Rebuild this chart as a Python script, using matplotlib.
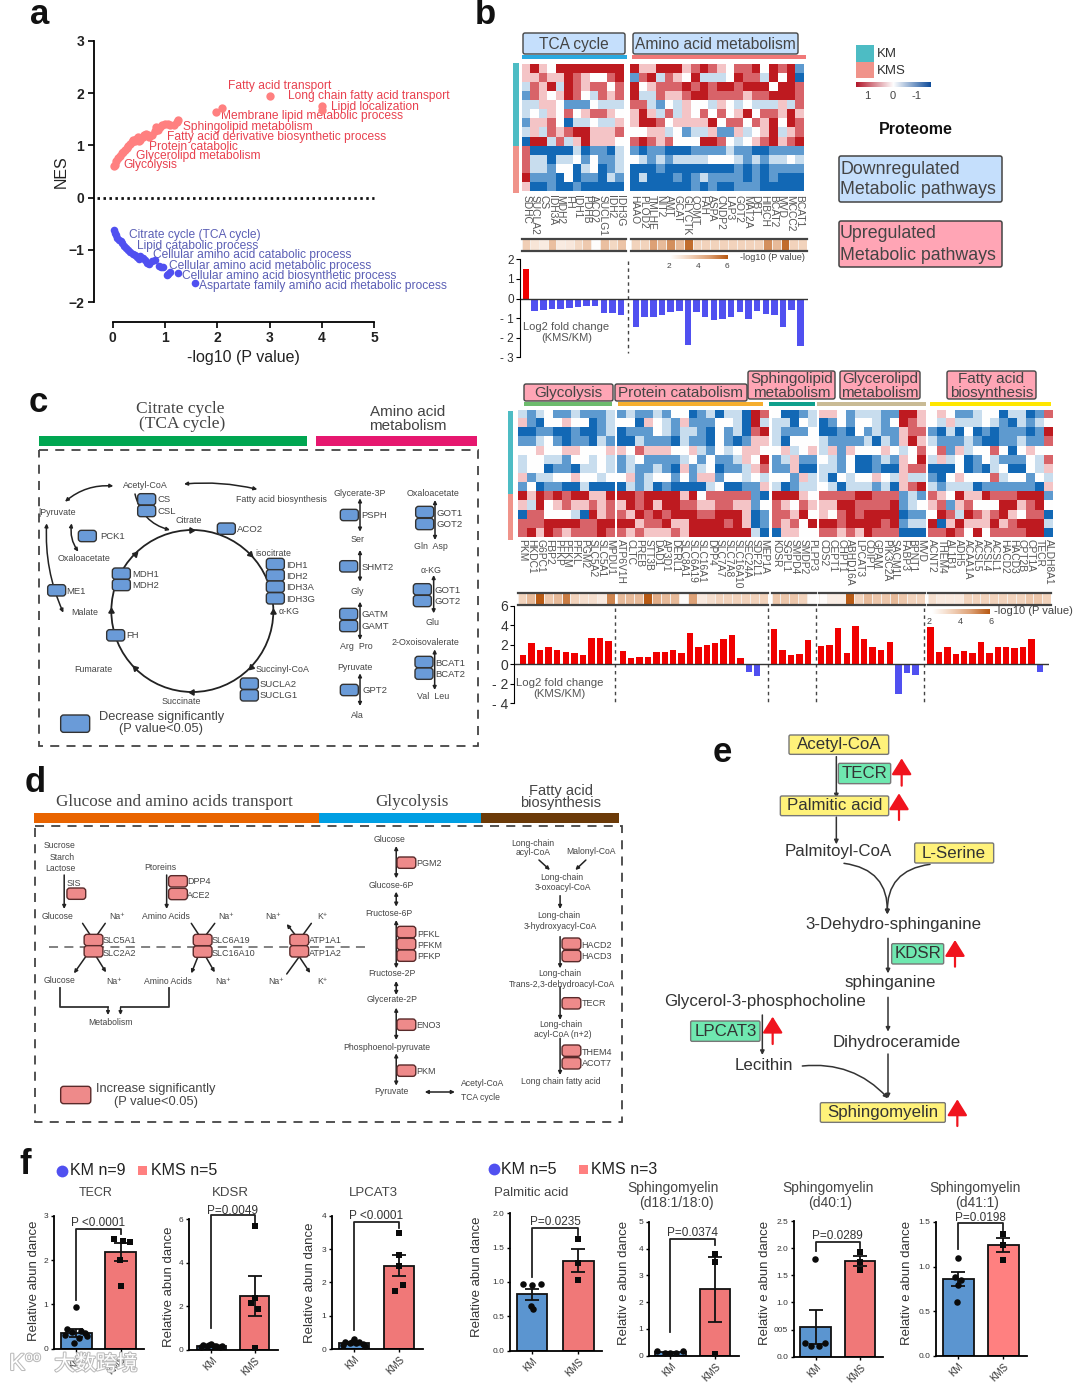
import numpy as np
import matplotlib
matplotlib.use("Agg")
import matplotlib.pyplot as plt
from matplotlib import patheffects
from matplotlib.colors import LinearSegmentedColormap
from matplotlib.patches import FancyBboxPatch, Rectangle, Circle

plt.rcParams['font.family'] = ['Liberation Sans', 'DejaVu Sans']

W, H = 1080, 1384

# ---- panel a
up_x = [0.02,0.05,0.07,0.1,0.13,0.17,0.2,0.23,0.27,0.3,0.33,0.36,0.38,0.42,0.45,0.48,0.5,0.53,0.57,0.6,0.64,0.67,0.7,0.75,0.8,0.83,0.86,0.9,0.95,1.0,1.05,1.1,1.18,1.22,1.25,1.97,2.08,3.0,4.0,4.0]
up_y = [0.6,0.63,0.7,0.75,0.8,0.85,0.88,0.92,0.95,0.98,1.02,1.07,1.1,1.08,1.12,1.15,1.08,1.1,1.15,1.2,1.22,1.2,1.15,1.2,1.28,1.35,1.3,1.35,1.38,1.4,1.4,1.38,1.38,1.45,1.49,1.64,1.72,1.95,1.75,1.68]
down_x = [0.03,0.05,0.07,0.09,0.12,0.15,0.18,0.22,0.26,0.3,0.34,0.38,0.42,0.46,0.5,0.53,0.58,0.62,0.66,0.7,0.75,0.8,0.88,0.92,0.96,1.03,1.06,1.1,1.25,1.57]
down_y = [-0.62,-0.68,-0.72,-0.78,-0.8,-0.83,-0.87,-0.92,-0.96,-1.0,-1.04,-1.08,-1.1,-1.14,-1.18,-1.12,-1.15,-1.2,-1.25,-1.27,-1.22,-1.2,-1.3,-1.33,-1.32,-1.48,-1.45,-1.42,-1.44,-1.63]
up_terms = ["Fatty acid transport","Long chain fatty acid transport","Lipid localization","Membrane lipid metabolic process","Sphingolipid metabolism","Fatty acid derivative biosynthetic process","Protein catabolic","Glycerolipd metabolism","Glycolysis"]
down_terms = ["Citrate cycle (TCA cycle)","Lipid catabolic process","Cellular amino acid catabolic process","Cellular amino acid metabolic process","Cellular amino acid biosynthetic process","Aspartate family amino acid metabolic process"]

# ---- panel b
tca_genes = ["SDHC","SUCLA2","CS","IDH3A","MDH2","FH","IDH1","PDHB","ACO2","SUCLG1","IDH2","IDH3G"]
amino_genes = ["HAAO","PLOD2","TMLHE","NIT2","AMT","GCAT","GLYCTK","COMT","FAH","ASPA","CNDP2","LAP3","GOT2","MAT2A","DBT","HIBCH","BCAT2","MVD","MCCC2","BCAT1"]
tca_heat = ["p R p w R R R R R R R R",
            "p p r p p R r p w w r R",
            "l r p R l R r p r r w r",
            "b r p w p R r w l r p r",
            "l l p p w b b b w l l l",
            "l w l p w r w p r r p w",
            "b p p r w B l l w l l p",
            "l p l r p r R R p p p r",
            "B R R l r l p R p p p w",
            "r B B B B B l B b b B l",
            "r l l B l l w b w b b l",
            "r l l b w w B l w B b l",
            "R b b b B w B b b B l b",
            "p B B b B B b B B B B B"]
amino_heat = ["R p p R R R p r R r p w r r R w R r R b",
              "b r R l r p w R l l l w R r r l R w R B",
              "R w p r r r R r R r R R r R R R w R R r",
              "R l l r p p r R R r r r r p r r R R R r",
              "r r l b w l p w w l p w l w l l l p l r",
              "p R p l r l p w r w r w p R w r r p R p",
              "p R R r w p p p p R w r r w r p R w R r",
              "w w p p l w b l l p b b p l w p R l p r",
              "r R r p r w w w R R r w l w p r R p r R",
              "b B b b B B B b b b b l b b B B b b b b",
              "w l b l b l l l l w w w l b l b l l w l",
              "B B B b B B B B B B B B b B b B b b b b",
              "B l B B B b B b l b b b b B b B b B B B",
              "B B B B B B B b B b B B b b b B B B B B"]
tca_p = [2.2,1.2,0.9,2.8,0.9,1.1,1.8,2.4,0.1,2.8,1.8,2.6]
amino_p = [2,2,4,3,4.5,3,5.5,2,2,2,2,2,2,2,2,4.5,3,5.5,2,2]
tca_fc = [1.5,-0.65,-0.6,-0.55,-0.55,-0.5,-0.45,-0.4,-0.4,-0.75,-0.75,-0.85]
amino_fc = [-1.45,-0.95,-0.95,-0.85,-0.7,-0.65,-2.35,-0.7,-0.95,-1.1,-1.05,-0.95,-0.7,-1.05,-0.65,-0.8,-0.85,-1.45,-0.6,-2.4]

# ---- panel c heatmap
gly_genes = ["PKM","HKDC1","G6PC1","FBP2","PFKP","PFKM","PFKL","PGM2","SLC5A2","SLC5A1","MPDU1"]
prot_genes = ["ATP6V1H","CLTC","PREB","STT3B","DAD1","AP3D1","DERL1","SLC8A1","SLC6A19","SLC16A1","DPP4","SLC7A7","SLC7A8","SLC16A10","SEC24A","SDF2L1","MEP1A"]
sph_genes = ["KDSR","SGPL1","SMPD4","SMDP2","PLPP3"]
glyc_genes = ["CDS2","CEPT1","CHPT1","ABHD16A","LPCAT3","CDIPT","GPAM","PIK3C2A","SACM1L","FABP3","BPNT1","MVD"]
fatty_genes = ["ACNT2","THEM4","AL1B1","ADH5","ACAA1A","ACSL5","ACSL4","ACSL1","HACD2","HACD3","CPT2B","CPT1A","TECR","ALDH8A1"]
gly_heat = ["l b l w b b l b b b l",
            "p b B w w p w w B b l",
            "B B b b B B b B B b l",
            "b b l w b B b b B l b",
            "w w p w w p p w w w p",
            "l w w l l b w w l w l",
            "l w w B b b B l l w l",
            "p b l l w w p w w l w",
            "b w B b b B B l B B B",
            "R p R r R r R R p p R",
            "p l R w p r p p r p r",
            "B r r w w w l B R p r",
            "r r r R R R R r r R R",
            "r R p R r p r r r R r"]
prot_heat = ["b l b b l b w w B b l B l l B R r",
             "w w B p w l b p b b b w w l B R l",
             "B b b b w l b l l b B w b l B r R",
             "B B l b b b B l b b B w b B b p p",
             "p w r p p p w w p l b w l w p p w",
             "b l w b b b b l w b w b b l p w R",
             "b l b b l b B p b l w B b b l p r",
             "w p b l w w b w b p p b w w l w l",
             "B l b l B b B B B B l w B B b b p",
             "R R r R R R R p R w r r r r r b B",
             "p R r R p R R r r p p r r p p b w",
             "r p R r R r R R R r r R R R p B b",
             "R R p r r R p p R R R R r R p B b",
             "r p r p p p r p R R R R R R R l B"]
sph_heat = ["w B B b l","l l B w l","l b b b w","l B w w w","w p l w p","b l p b b","b b p B B",
            "w w b p l","l B b l l","R R R p w","r p w r p","r r p R w","r p r w R","B p p w w"]
glyc_heat = ["p p w b l l l b b R R p",
             "B b w b w w l b w R r p",
             "B B b B w b l b b p r r",
             "l b b b b l B l b p R p",
             "l p b p w w w p w l w r",
             "w l b w B B b l b p w R",
             "l l b w B B b B B p r r",
             "l B w l w w p w l p l l",
             "w l B l l l b l B p r R",
             "r r r r R R r r r b l b",
             "p p R R r r r r R b l w",
             "p w r R r R R R R B b b",
             "R R r R R R R r R b l l",
             "r r p r p R r r r B B B"]
fatty_heat = ["w p w b b l w w B l l B b r",
              "w l p l l l w l b B l b l w",
              "b B l B w B b B b b b B b R",
              "l b b b l b B B b b l b b r",
              "w r b p l w w r w B w p w w",
              "l p l w B b w l b b b w l r",
              "B B B w B b B l w B B w l p",
              "b B w p w w w r l w w b w l",
              "l b l l l B b b b b b b B p",
              "r p w R p p R r r r R R R b",
              "p r b p r w w w R R p r R w",
              "w R r l R r p r R p w r r B",
              "R B p R p p p R p r R R R l",
              "r r R r w R w r r r r R R B"]
gly_p = [2,3,6,2.5,3,5,2,1.5,1.5,1,4.8]
prot_p = [3,3,3,6,3.5,3,3,0.2,4,1,1.5,2,2,2,2,2,2]
sph_p = [2.5,2.5,2.5,2,0.2]
glyc_p = [0.2,0.8,0.8,6,2,3,2.5,2.5,3,2.5,2,2]
fatty_p = [1.5,1,1,1,2,2,2,2,2,2,2,2.5,2.5,2]
gly_fc = [0.9,2.2,1.5,1.8,1.5,1.3,1.2,0.9,2.7,2.7,2.35]
prot_fc = [1.4,0.65,0.75,0.75,1.3,1.3,1.5,1.2,3.25,1.8,2.0,2.2,2.6,3.0,0.6,-0.75,-1.2]
sph_fc = [3.6,1.5,0.9,1.1,2.5]
glyc_fc = [1.9,2.0,3.7,1.2,3.9,2.6,1.75,1.5,2.25,-3.0,-0.9,-1.1]
fatty_fc = [3.85,1.3,1.75,1.1,1.4,1.2,2.25,1.2,1.75,1.8,1.65,1.8,2.6,-0.8]

# ---- panel f
tecr_km = [0.95,0.45,0.4,0.38,0.35,0.3,0.28,0.25,0.12]
tecr_kms = [2.47,2.4,2.42,2.0,1.42]
kdsr_km = [0.26,0.22,0.2,0.17,0.15,0.14,0.17,0.2,0.24]
kdsr_kms = [5.67,2.4,2.15,1.9,0.1]
lpcat_km = [0.3,0.22,0.2,0.18,0.15,0.12,0.1,0.18,0.2]
lpcat_kms = [3.48,2.82,2.5,1.93,1.75]
palm_km = [0.97,0.97,0.95,0.65,0.6]
palm_kms = [1.62,1.27,1.03]
d18_km = [0.18,0.1,0.09,0.09,0.17]
d18_kms = [3.8,3.5,0.07]
d40_km = [1.8,0.25,0.2,0.2,0.25]
d40_kms = [1.92,1.75,1.6]
d41_km = [1.1,0.88,0.85,0.8,0.6]
d41_kms = [1.37,1.24,1.08]
jit9 = [0,-0.2,0.1,-0.1,0.2,-0.25,0.25,0.05,-0.05]
jit5 = [-0.15,0.2,0.05,-0.02,0.0]
jit5b = [0,0,-0.08,0.08,0]
jit5c = [0,0,0,0.08,-0.08]
jit3 = [0,0,0]

LEVEL = {'R':3,'r':2,'p':1,'w':0,'l':-1,'b':-2,'B':-3}
heat_cmap = LinearSegmentedColormap.from_list('h', ['#1268B5','#5F9BD0','#C8DDEE','#FFFFFF','#F4C4C6','#D9646A','#BE1A20'])
strip_cmap = LinearSegmentedColormap.from_list('s', ['#FFFFFF','#F2D3BC','#DDA176','#B85A14'])
RED, BLUE = '#F00000', '#5050F0'
TEAL, SALMON = '#4DBCC4', '#F0938A'
GREY = '#444444'

fig = plt.figure(figsize=(W/100, H/100), dpi=100)
bg = fig.add_axes([0, 0, 1, 1])
bg.set_xlim(0, W)
bg.set_ylim(H, 0)
bg.axis('off')


def ax_px(x0, y0, x1, y1):
    a = fig.add_axes([x0/W, 1-y1/H, (x1-x0)/W, (y1-y0)/H])
    a.patch.set_alpha(0)
    return a


def txt(x, y, s, size=6.5, color=GREY, ha='center', va='center', **kw):
    return bg.text(x, y, s, fontsize=size, color=color, ha=ha, va=va, **kw)


def box(x0, y0, x1, y1, fc, ec='#444444', lw=1.0, r=2.0):
    bg.add_patch(FancyBboxPatch((x0+r, y0+r), x1-x0-2*r, y1-y0-2*r, boxstyle='round,pad=%f,rounding_size=%f' % (r, r),
                                fc=fc, ec=ec, lw=lw, zorder=3))


def arrow(p0, p1, style='-|>', lw=1.0, color='#222222', ms=6, rad=0.0):
    bg.annotate('', xy=p1, xytext=p0, zorder=2,
                arrowprops=dict(arrowstyle=style, lw=lw, color=color, mutation_scale=ms, shrinkA=0, shrinkB=0,
                                connectionstyle='arc3,rad=%f' % rad))


def heat(rows, x0, x1, y0=64, y1=191):
    a = ax_px(x0, y0, x1, y1)
    arr = np.array([[LEVEL[c] for c in r.split()] for r in rows])
    a.imshow(arr, cmap=heat_cmap, vmin=-3, vmax=3, aspect='auto', interpolation='nearest')
    a.axis('off')


def strip(vals, x0, x1, y0, y1):
    a = ax_px(x0, y0, x1, y1)
    a.pcolormesh([vals], cmap=strip_cmap, vmin=0, vmax=6, edgecolors='#F5EEE8', linewidth=0.6)
    a.set_xticks([])
    a.set_yticks([])
    for s in ['left', 'right']:
        a.spines[s].set_visible(False)
    for s in ['top', 'bottom']:
        a.spines[s].set_color('#444444')
        a.spines[s].set_linewidth(1.6)


def genes(names, x0, x1, y, size=7.4):
    step = (x1-x0)/len(names)
    for i, n in enumerate(names):
        txt(x0+step*(i+.5), y, n, size=size, rotation=270, va='top', color='#555555')


def fc_bars(a, vals, start, step, width):
    x = [start+step*i for i in range(len(vals))]
    a.bar(x, vals, width=width, color=[RED if v > 0 else BLUE for v in vals])


# ---------- a
txt(40, 15, 'a', size=25, color='#111111', weight='bold')
ax = ax_px(112.7, 40.7, 374.3, 302.3)
ax.scatter(up_x, up_y, s=36, color='#FF8080', clip_on=False, lw=0)
ax.scatter(down_x, down_y, s=30, color='#5050F0', clip_on=False, lw=0)
ax.plot([-0.3, 5], [0, 0], color='#111111', lw=2, ls=(0, (0.9, 1.25)), clip_on=False)
ax.set_xlim(0, 5)
ax.set_ylim(-2, 3)
for s in ['top', 'right']:
    ax.spines[s].set_visible(False)
ax.spines['left'].set_position(('outward', 13.4))
ax.spines['bottom'].set_position(('outward', 14))
ax.spines['left'].set_linewidth(1.3)
ax.spines['bottom'].set_linewidth(1.3)
ax.set_xticks(range(6))
ax.set_yticks([-2, -1, 0, 1, 2, 3])
ax.tick_params(width=1.2, length=4, labelsize=10, pad=3)
for t in ax.get_xticklabels()+ax.get_yticklabels():
    t.set_fontweight('bold')
    t.set_color('#222222')
ax.set_xlabel('-log10 (P value)', fontsize=11.5, color='#222222', labelpad=3)
ax.set_ylabel('NES', fontsize=11.5, color='#222222', labelpad=0)
up_pos = [(683,258),(865,287),(992,321),(662,349),(550,381),(500,412),(448,441),(407,469),(371,495)]
down_pos = [(386,706),(412,737),(459,766),(507,797),(545,828),(597,857)]
for s, (x, y) in zip(up_terms, up_pos):
    txt(x/3, y/3, s, size=8.65, color='#E8414F', ha='left')
for s, (x, y) in zip(down_terms, down_pos):
    txt(x/3, y/3, s, size=8.65, color='#5B5FB5', ha='left')

# ---------- b
txt(485, 15, 'b', size=25, color='#111111', weight='bold')
box(523, 33, 625, 54, '#C5DFFC')
box(633, 33, 798, 54, '#C5DFFC')
txt(574, 44, 'TCA cycle', size=11.2)
txt(715, 44.5, 'Amino acid metabolism', size=11.2)
bg.add_patch(Rectangle((522, 55), 105, 4.3, color='#2AA9E0', lw=0))
bg.add_patch(Rectangle((632, 55), 174, 4.3, color='#F07878', lw=0))
bg.add_patch(Rectangle((512.7, 63), 5.8, 83, color=TEAL, lw=0))
bg.add_patch(Rectangle((512.7, 146), 5.8, 46.7, color=SALMON, lw=0))
heat(tca_heat, 522, 624)
heat(amino_heat, 630, 803)
genes(tca_genes, 522, 624, 195)
genes(amino_genes, 630, 803, 195)
strip(tca_p, 521.5, 626, 239, 250.5)
strip(amino_p, 631, 807, 239, 250.5)
cb = ax_px(670, 255, 728, 259.5)
cb.imshow(np.linspace(0, 6, 64)[None, :], cmap=strip_cmap, aspect='auto')
cb.axis('off')
for x, s in [(669, '2'), (698, '4'), (727, '6')]:
    txt(x, 266, s, size=6)
txt(740, 257.5, '-log10 (P value)', size=6.6, ha='left')
ax = ax_px(519.6, 259.3, 808, 357.3)
fc_bars(ax, tca_fc, 526, 8.65, 6.5)
fc_bars(ax, amino_fc, 636, 8.65, 6.5)
ax.set_xlim(519.6, 808)
ax.set_ylim(-3, 2)
ax.set_xticks([])
ax.set_yticks([-3, -2, -1, 0, 1, 2])
ax.set_yticklabels(['- 3', '- 2', '- 1', '0', '1', '2'])
ax.tick_params(labelsize=8.5, length=3, pad=1, labelcolor='#333333')
for s in ['top', 'right', 'bottom']:
    ax.spines[s].set_visible(False)
ax.axhline(0, color='#333333', lw=1)
bg.plot([628, 628], [261, 353], color=GREY, lw=1, ls=(0, (2.5, 2.5)))
txt(566.5, 327, 'Log2 fold change', size=8, color='#555555')
txt(566.5, 338, '(KMS/KM)', size=8, color='#555555')
bg.add_patch(Rectangle((856, 45), 18, 16.7, color=TEAL, lw=0))
bg.add_patch(Rectangle((856, 61.7), 18, 16.3, color=SALMON, lw=0))
txt(877, 54, 'KM', size=9.5, ha='left', color='#333333')
txt(877, 71, 'KMS', size=9.5, ha='left', color='#333333')
cb = ax_px(856, 81.7, 931, 87.3)
cb.imshow(np.linspace(3, -3, 128)[None, :], cmap=LinearSegmentedColormap.from_list('l', ['#0F4C9A', '#FFFFFF', '#B2182B']), aspect='auto', vmin=-3, vmax=3)
cb.axis('off')
for x, s in [(867, '1'), (893, '0'), (916, '-1')]:
    txt(x, 95.7, s, size=8)
txt(916, 130, 'Proteome', size=11.5, color='#111111', weight='bold')
box(839, 156, 1002, 202, '#C5DFFC', lw=1.1)
box(839, 221, 1002, 267, '#FFA5B5', lw=1.1)
txt(840, 169, 'Downregulated', size=12.8, ha='left')
txt(840, 190, 'Metabolic pathways', size=12.8, ha='left')
txt(840, 234, 'Upregulated', size=12.8, ha='left')
txt(840, 255, 'Metabolic pathways', size=12.8, ha='left')

# ---------- c pathway (zoom coordinates -> pixels)
cx = lambda v: v/3
cy = lambda v: 380+v/3
txt(38, 403, 'c', size=25, color='#111111', weight='bold')
txt(cx(540), cy(87), 'Citrate cycle', size=12.5, family='Liberation Serif')
txt(cx(546), cy(131), '(TCA cycle)', size=12.5, family='Liberation Serif')
txt(cx(1222), cy(97), 'Amino acid', size=11)
txt(cx(1222), cy(137), 'metabolism', size=11)
bg.add_patch(Rectangle((cx(118), cy(167)), cx(802), 10, color='#00A651', lw=0))
bg.add_patch(Rectangle((cx(947), cy(167)), cx(485), 10, color='#E6186F', lw=0))
bg.add_patch(Rectangle((cx(116), cy(210)), cx(1319), 296, fill=False, ec=GREY, lw=1.3, ls=(0, (5, 4))))
bg.add_patch(Circle((cx(577), cy(693)), 81, fill=False, ec='#222222', lw=1.3))
for ang, rot in [(91, -90), (45, -135), (-1, 0), (-44, 135), (-90, 90), (-135, 45), (180, 0), (135, -45)]:
    x0 = cx(577)+81*np.cos(np.radians(ang))
    y0 = cy(693)-81*np.sin(np.radians(ang))
    bg.plot([x0], [y0], marker=(3, 0, rot), ms=4.5, color='#222222', zorder=2)
c_boxes = [(440,358),(440,393),(679,446),(826,552),(826,586),(826,620),(826,655),(364,581),(364,615),(347,766),
           (748,911),(748,946),(170,631),(262,468),(1048,405),(1046,559),(1046,702),(1046,738),(1048,930),
           (1274,396),(1274,432),(1267,628),(1267,663),(1272,846),(1272,881)]
for x, y in c_boxes:
    box(cx(x-27), cy(y-17), cx(x+27), cy(y+17), '#6A9BD8', ec='#333333', r=3)
box(cx(182), cy(1005), cx(269), cy(1057), '#6A9BD8', ec='#333333', r=3)
c_mets = [('Acetyl-CoA',437,316),('Fatty acid biosynthesis',843,360),('Glycerate-3P',1078,340),('Oxaloacetate',1300,340),
          ('|Pyruvate',170,397),('Citrate',565,422),('Oxaloacetate',253,535),('isocitrate',820,519),('Ser',1074,480),
          ('Gln  Asp',1292,500),('Gly',1071,633),('α-KG',1293,571),('α-KG',867,696),('Malate',254,698),('Glu',1298,727),
          ('Arg  Pro',1069,800),('2-Oxoisovalerate',1277,788),('Pyruvate',1065,862),('Fumarate',280,870),
          ('Succinyl-CoA',846,870),('Succinate',544,963),('Val  Leu',1300,950),('Ala',1073,1005)]
for s, x, y in c_mets:
    txt(cx(x), cy(y), s, size=6.4)
c_genes = [('CS',473,360),('CSL',473,395),('ACO2',712,449),('PCK1',300,469),('IDH1',858,555),('IDH2',858,589),('IDH3A',858,623),
           ('IDH3G',858,657),('MDH1',398,584),('MDH2',398,618),('ME1',200,635),('FH',380,768),('SUCLA2',780,914),('SUCLG1',780,948),
           ('PSPH',1084,407),('SHMT2',1084,561),('GATM',1084,704),('GAMT',1084,739),('GPT2',1087,932),('GOT1',1310,399),('GOT2',1310,433),
           ('GOT1',1303,631),('GOT2',1303,665),('BCAT1',1306,849),('BCAT2',1306,883)]
for s, x, y in c_genes:
    txt(cx(x), cy(y), s, size=6.8, ha='left')
txt(cx(484), cy(1010), 'Decrease significantly', size=9.3)
txt(cx(484), cy(1048), '(P value<0.05)', size=9.3)
for (x0, y0), (x1, y1), st, rad in [((195,365),(340,318),'<|-|>',-0.2),((552,312),(772,328),'<|-|>',-0.08),((140,430),(190,698),'<|-|>',0.12),
                                    ((215,430),(235,515),'<|-|>',0.2),((405,342),(510,450),'-|>',0.3),
                                    ((1080,355),(1080,455),'<|-|>',0),((1080,510),(1080,605),'<|-|>',0),((1080,665),(1080,780),'<|-|>',0),
                                    ((1080,880),(1080,978),'<|-|>',0),((1305,360),(1305,480),'<|-|>',0),((1301,585),(1301,700),'<|-|>',0),
                                    ((1304,808),(1304,930),'<|-|>',0)]:
    arrow((cx(x0), cy(y0)), (cx(x1), cy(y1)), style=st, rad=rad, ms=5, lw=1.1)

# ---------- c heatmap
for (x0, x1, y0, y1, s, t) in [(524,613,384,401,'Glycolysis',393),(615,747,384,401,'Protein catabolism',393)]:
    box(x0, y0, x1, y1, '#FFA5B5')
    txt((x0+x1)/2, t, s, size=11)
for (x0, x1, a_s, b_s) in [(748,835,'Sphingolipid','metabolism'),(840,920,'Glycerolipd','metabolism'),(947,1036,'Fatty acid','biosynthesis')]:
    box(x0, 371, x1, 399, '#FFA5B5')
    txt((x0+x1)/2, 379, a_s, size=11)
    txt((x0+x1)/2, 393, b_s, size=11)
for x0, x1, c in [(524,612,'#6DBB6D'),(617.5,763,'#F5AE2E'),(769,815,'#0FA08C'),(817,926,'#C9BB95'),(929.5,1051,'#FFE600')]:
    bg.add_patch(Rectangle((x0, 401.7), x1-x0, 4.3, color=c, lw=0))
bg.add_patch(Rectangle((507.6, 410.7), 5.6, 83.3, color=TEAL, lw=0))
bg.add_patch(Rectangle((507.6, 494), 5.6, 46, color=SALMON, lw=0))
c_groups = [(gly_heat,gly_genes,gly_p,518,615,614.5),(prot_heat,prot_genes,prot_p,617,769,768),(sph_heat,sph_genes,sph_p,772,817,816),
            (glyc_heat,glyc_genes,glyc_p,819,926,925),(fatty_heat,fatty_genes,fatty_p,928,1053,1051)]
for rows, names, pv, x0, x1, sx in c_groups:
    heat(rows, x0, x1, 410, 537.5)
    genes(names, x0, x1, 539)
    strip(pv, x0-0.5, sx, 593, 605)
cb = ax_px(932, 609, 990, 613.7)
cb.imshow(np.linspace(0, 6, 64)[None, :], cmap=strip_cmap, aspect='auto')
cb.axis('off')
txt(994, 611, '-log10 (P value)', size=8, ha='left')
for x, s in [(929.5, '2'), (960.6, '4'), (991, '6')]:
    txt(x, 621, s, size=6.5)
ax = ax_px(513.7, 605.7, 1049, 703.3)
fc_bars(ax, gly_fc, 523, 8.55, 6.5)
fc_bars(ax, prot_fc, 622.8, 8.4, 6.5)
fc_bars(ax, sph_fc, 774, 8.5, 6.5)
fc_bars(ax, glyc_fc, 821, 8.6, 6.5)
fc_bars(ax, fatty_fc, 930.6, 8.4, 6.5)
ax.set_xlim(513.7, 1049)
ax.set_ylim(-4, 6)
ax.set_xticks([])
ax.set_yticks([-4, -2, 0, 2, 4, 6])
ax.set_yticklabels(['- 4', '- 2', '0', '2', '4', '6'])
ax.tick_params(labelsize=10, length=3, pad=1, labelcolor='#333333')
for s in ['top', 'right', 'bottom']:
    ax.spines[s].set_visible(False)
ax.axhline(0, color='#333333', lw=1)
for x in [615, 768, 816, 924]:
    bg.plot([x, x], [608, 703], color=GREY, lw=1, ls=(0, (2.5, 2.5)))
txt(559.4, 683, 'Log2 fold change', size=8.2, color='#555555')
txt(559.4, 694, '(KMS/KM)', size=8.2, color='#555555')

# ---------- d pathway
dx = lambda v: 20+v/2.557
dy = lambda v: 765+v/3
txt(35, 782, 'd', size=25, color='#111111', weight='bold')
txt(dx(395), dy(110), 'Glucose and amino acids transport', size=12.3, family='Liberation Serif')
txt(dx(1003), dy(110), 'Glycolysis', size=12.3, family='Liberation Serif')
txt(dx(1383), dy(77), 'Fatty acid', size=10.5)
txt(dx(1383), dy(115), 'biosynthesis', size=10.5)
for x0, x1, c in [(36,764,'#E96400'),(764,1180,'#009FE3'),(1180,1531,'#6B3A08')]:
    bg.add_patch(Rectangle((dx(x0), dy(145)), (x1-x0)/2.557, 10, color=c, lw=0))
bg.add_patch(Rectangle((dx(38), dy(183)), 1502/2.557, 889/3, fill=False, ec=GREY, lw=1.3, ls=(0, (5, 4))))
bg.plot([dx(75), dx(885)], [dy(545), dy(545)], color='#777777', lw=1.3, ls=(0, (5, 3.5)))
d_boxes = [(144,386),(404,349),(404,387),(188,525),(188,559),(467,525),(467,560),(714,525),(714,559),(988,293),(988,501),(988,537),
           (988,572),(988,779),(988,917),(1410,536),(1410,573),(1410,715),(1410,857),(1410,895)]
for x, y in d_boxes:
    box(dx(x-24), dy(y-17), dx(x+24), dy(y+17), '#EE8A8A', ec='#5A2A2A', r=3)
box(dx(104), dy(964), dx(181), dy(1016), '#EE8A8A', ec='#5A2A2A', r=3)
d_mets = [('Sucrose',102,240),('Starch',107,279),('Lactose',104,311),('Ptoreins',358,308),('Glucose',96,454),('Na⁺',248,454),('Amino Acids',372,454),
          ('Na⁺',526,454),('Na⁺',647,454),('K⁺',773,454),('Glucose',102,646),('Na⁺',240,651),('Amino Acids',379,648),('Na⁺',520,651),('Na⁺',655,651),
          ('K⁺',773,651),('Metabolism',232,773),('Glucose',945,222),('Glucose-6P',950,360),('Fructose-6P',943,446),('Fructose-2P',952,627),
          ('Glycerate-2P',951,705),('Phosphoenol-pyruvate',937,847),('Pyruvate',950,979),('Acetyl-CoA',1182,955),('TCA cycle',1177,999),
          ('Long-chain',1312,235),('acyl-CoA',1312,263),('Malonyl-CoA',1459,261),('Long-chain',1385,337),('3-oxoacyl-CoA',1388,368),('Long-chain',1377,452),
          ('3-hydroxyacyl-CoA',1381,485),('Long-chain',1380,625),('Trans-2,3-dehydroacyl-CoA',1385,658),('Long-chain',1383,778),('acyl-CoA (n+2)',1387,809),
          ('Long chain fatty acid',1383,948)]
for s, x, y in d_mets:
    txt(dx(x), dy(y), s, size=6.2)
d_genes = [('SIS',120,357),('DPP4',428,351),('ACE2',428,390),('SLC5A1',212,527),('SLC2A2',212,565),('SLC6A19',490,527),('SLC16A10',490,567),('ATP1A1',738,527),
           ('ATP1A2',738,565),('PGM2',1013,295),('PFKL',1016,508),('PFKM',1016,543),('PFKP',1016,575),('ENO3',1014,781),('PKM',1014,918),('HACD2',1436,541),
           ('HACD3',1436,575),('TECR',1436,716),('THEM4',1436,863),('ACOT7',1436,895)]
for s, x, y in d_genes:
    txt(dx(x), dy(y), s, size=6.5, ha='left')
txt(dx(347), dy(973), 'Increase significantly', size=9.3)
txt(dx(347), dy(1012), '(P value<0.05)', size=9.3)
d_arrows = [((113,330),(113,432),'-|>'),((375,330),(375,432),'-|>'),((962,243),(962,340),'<|-|>'),((962,380),(962,425),'<|-|>'),((962,465),(962,610),'<|-|>'),
            ((962,648),(962,690),'<|-|>'),((962,728),(962,825),'<|-|>'),((962,865),(962,962),'<|-|>'),((1035,981),(1112,981),'<|-|>'),((1327,285),(1355,315),'-|>'),
            ((1447,285),(1420,315),'-|>'),((1381,392),(1381,432),'-|>'),((1381,515),(1381,610),'-|>'),((1381,665),(1381,765),'-|>'),((1381,820),(1381,930),'-|>'),
            ((160,475),(188,525),'-'),((218,475),(188,525),'-'),((168,575),(138,625),'-|>'),((195,575),(220,622),'-|>'),
            ((438,475),(466,525),'-'),((498,475),(466,525),'-'),((455,575),(438,625),'-|>'),((475,575),(498,622),'-|>'),
            ((714,525),(682,477),'-|>'),((714,525),(745,475),'-'),((714,575),(682,627),'-'),((714,575),(742,624),'-|>')]
for (x0, y0), (x1, y1), st in d_arrows:
    arrow((dx(x0), dy(y0)), (dx(x1), dy(y1)), style=st, ms=5, lw=1.1)
bg.plot([dx(103), dx(103), dx(225)], [dy(670), dy(727), dy(727)], color='#333333', lw=1.3)
bg.plot([dx(380), dx(380), dx(257)], [dy(670), dy(727), dy(727)], color='#333333', lw=1.3)
arrow((dx(225), dy(727)), (dx(225), dy(750)), ms=5)
arrow((dx(257), dy(727)), (dx(257), dy(750)), ms=5)

# ---------- e
ex = lambda v: 640+v/3
ey = lambda v: 725+v/3
txt(722, 753, 'e', size=25, color='#111111', weight='bold')
for s, x0, x1, y0, y1, c in [('Acetyl-CoA',447,746,30,88,'#FFF27A'),('Palmitic acid',421,746,213,272,'#FFF27A'),('L-Serine',824,1061,354,414,'#FFF27A'),
                             ('Sphingomyelin',541,916,1133,1192,'#FFF27A'),('TECR',595,752,115,176,'#6FE8B0'),('KDSR',755,911,656,717,'#6FE8B0'),
                             ('LPCAT3',152,360,888,949,'#6FE8B0')]:
    box(ex(x0), ey(y0), ex(x1), ey(y1), c, ec='#777777', r=1.5)
    bg.text(ex((x0+x1)/2), ey((y0+y1)/2), s, fontsize=12.2, color='#333333', ha='center', va='center', zorder=4)
for s, x, y in [('Palmitoyl-CoA',595,380),('3-Dehydro-sphinganine',760,598),('sphinganine',750,773),('Glycerol-3-phosphocholine',375,830),
                ('Dihydroceramide',770,951),('Lecithin',371,1020)]:
    txt(ex(x), ey(y), s, size=12.2, color='#333333')
for (x0, y0), (x1, y1), rad in [((589,95),(589,220),0),((589,276),(589,358),0),((612,415),(742,568),-0.45),((870,418),(742,568),0.45),((744,640),(744,745),0),
                                ((744,817),(744,920),0),((744,987),(744,1120),0),((367,870),(367,990),0),((487,1023),(744,1120),-0.25)]:
    arrow((ex(x0), ey(y0)), (ex(x1), ey(y1)), rad=rad, lw=1.1, color='#333333', ms=6)
for (x0, y0), (x1, y1) in [((785,182),(785,100)),((777,285),(777,205)),((945,725),(945,645)),((398,957),(398,875)),((952,1203),(952,1123))]:
    bg.annotate('', xy=(ex(x1), ey(y1)), xytext=(ex(x0), ey(y0)), zorder=5,
                arrowprops=dict(arrowstyle='-|>,head_width=0.28,head_length=0.45', lw=1.6, color='#F0141E', mutation_scale=22, shrinkA=0, shrinkB=0))

# ---------- f
txt(25, 1165, 'f', size=25, color='#111111', weight='bold')
bg.plot([61.7], [1170.7], 'o', ms=8.5, color=BLUE, mew=0)
txt(70, 1170.5, 'KM n=9', size=11.5, ha='left', color='#222222')
bg.add_patch(Rectangle((137.7, 1166), 9, 9, color='#FF8080', lw=0))
txt(150.7, 1170.5, 'KMS n=5', size=11.5, ha='left', color='#222222')
bg.plot([493.5], [1169], 'o', ms=8.5, color=BLUE, mew=0)
txt(501, 1169, 'KM n=5', size=11.5, ha='left', color='#222222')
bg.add_patch(Rectangle((579, 1164.5), 9, 9, color='#FF8080', lw=0))
txt(590.8, 1169, 'KMS n=3', size=11.5, ha='left', color='#222222')


def bar_panel(spine, right, top, zero, km_rng, kms_rng, ymax, ticks, ticklabels, km, kms, km_jit, kms_jit, means, errs, bracket, ptext, ptext_y, kms_color='#F07878'):
    km_c, kms_c = sum(km_rng)/2, sum(kms_rng)/2
    unit = kms_c-km_c
    a = ax_px(spine, top, right, zero)
    a.bar([0, 1], means, width=(km_rng[1]-km_rng[0])/unit, color=['#5B95D0', kms_color], ec='#111111', lw=1.3)
    a.errorbar([0, 1], means, yerr=errs, fmt='none', ecolor='#111111', elinewidth=1.3, capsize=5, capthick=1.3, zorder=4)
    a.scatter(km_jit, km, s=22, color='#0A0A0A', zorder=5, clip_on=False, lw=0)
    a.scatter(np.array(kms_jit)+1, kms, s=22, marker='s', color='#0A0A0A', zorder=5, clip_on=False, lw=0)
    a.plot([0, 0, 1, 1], [bracket[0], bracket[1], bracket[1], bracket[2]], color='#222222', lw=1.3, clip_on=False)
    a.text(0.5, ptext_y, ptext, fontsize=8.5, color='#333333', ha='center', va='center', clip_on=False)
    a.set_xlim((spine-km_c)/unit, (right-km_c)/unit)
    a.set_ylim(0, ymax)
    a.set_xticks([0, 1])
    a.set_xticklabels(['KM', 'KMS'], rotation=45, fontsize=7, color='#333333', ha='right', rotation_mode='anchor')
    a.set_yticks(ticks)
    a.set_yticklabels(ticklabels, fontsize=6, color='#333333')
    a.tick_params(length=2.5, width=1, pad=1.5)
    for s in ['top', 'right']:
        a.spines[s].set_visible(False)
    a.spines['left'].set_linewidth(1.3)
    a.spines['bottom'].set_linewidth(1.3)


bar_panel(54,144,1215.7,1348.7,(61,91.7),(105.7,135.7),3,[0,1,2,3],['0','1','2','3'],tecr_km,tecr_kms,jit9,jit5,[0.36,2.18],[0.09,0.2],(1.1,2.71,2.58),'P <0.0001',2.83)
bar_panel(189,278,1219,1350,(196.7,226),(240,269),6,[0,2,4,6],['0','2','4','6'],kdsr_km,kdsr_kms,jit9,jit5b,[0.2,2.47],[0.03,0.9],(1.0,6.18,5.8),'P=0.0049',6.35)
bar_panel(332,423,1215.7,1349,(339,369),(384,414),4,[0,1,2,3,4],['0','1','2','3','4'],lpcat_km,lpcat_kms,jit9,jit5c,[0.18,2.5],[0.03,0.32],(0.57,3.81,3.62),'P <0.0001',4.0)
bar_panel(510,602,1213.3,1350.7,(516.5,547.3),(562.7,593.5),2,[0,0.5,1,1.5,2],['0.0','0.5','1.0','1.5','2.0'],palm_km,palm_kms,[-0.2,0.2,0,-0.02,0.02],jit3,[0.82,1.31],[0.08,0.17],(1.08,1.78,1.68),'P=0.0235',1.88)
bar_panel(648.5,739,1222,1355.7,(655,685.8),(699.6,730.4),5,[0,1,2,3,4,5],['0','1','2','3','4','5'],d18_km,d18_kms,[-0.3,-0.12,0,0.12,0.28],jit3,[0.12,2.48],[0.02,1.22],(0.9,4.36,4.15),'P=0.0374',4.6)
bar_panel(793.8,883,1221,1356.7,(800.4,831),(844.6,875.4),2.5,[0,0.5,1,1.5,2,2.5],['0.0','005','1.0','1.5','2.0','2.5'],d40_km,d40_kms,[-0.02,-0.25,-0.1,0.08,0.22],jit3,[0.55,1.76],[0.31,0.09],(1.94,2.12,2.0),'P=0.0289',2.22)
bar_panel(936,1027,1222,1356,(942.7,973.5),(987.7,1018.5),1.5,[0,0.5,1,1.5],['0.0','0.5','1.0','1.5'],d41_km,d41_kms,[0,-0.07,0.07,0,-0.02],jit3,[0.86,1.24],[0.08,0.08],(1.2,1.49,1.41),'P=0.0198',1.54,kms_color='#FF8080')

for x, y0, s in [(34,1281,'Relative abun dance'),(169,1287,'Relative abun dance'),(310,1283,'Relative abun dance'),(477,1277,'Relative abun dance'),
                 (624,1283,'Relativ e abun dance'),(765,1283,'Relativ e abun dance'),(907,1283,'Relativ e abun dance')]:
    txt(x, y0, s, size=9.5, rotation=90, color='#333333')
for x, y, s, sz in [(96,1192.7,'TECR',9),(230,1192.7,'KDSR',9.5),(373,1192.7,'LPCAT3',9.5),(531,1192.7,'Palmitic acid',9.5),(673.5,1188,'Sphingomyelin',10),
                    (676,1203,'(d18:1/18:0)',10),(828,1188,'Sphingomyelin',10),(830,1203,'(d40:1)',10),(975,1188,'Sphingomyelin',10),(977,1203,'(d41:1)',10)]:
    txt(x, y, s, size=sz, color='#444444')

# watermark
pe = [patheffects.withStroke(linewidth=1.5, foreground='#BBBBBB')]
t = fig.text(96/W, 1-1364/H, '大数跨境', fontsize=15, color='white', ha='center', va='center', family=['Noto Sans CJK SC', 'DejaVu Sans'], zorder=20)
t.set_path_effects(pe)
t = fig.text(17/W, 1-1364/H, 'K', fontsize=17, color='white', ha='center', va='center', zorder=20)
t.set_path_effects(pe)
t = fig.text(33/W, 1-1357/H, 'oo', fontsize=10, color='white', ha='center', va='center', zorder=20)
t.set_path_effects(pe)

fig.savefig('out.png', dpi=100)
